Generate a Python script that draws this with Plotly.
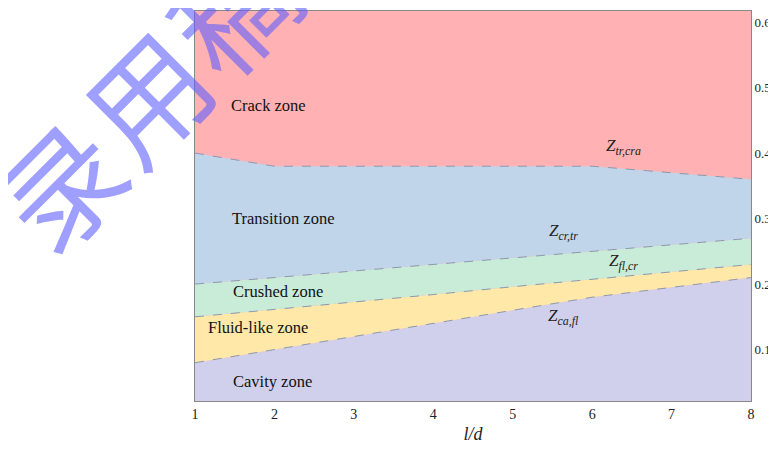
import plotly.graph_objects as go

x = [1, 2, 3, 4, 5, 6, 7, 8]
z_ca_fl = [0.08, 0.10, 0.12, 0.14, 0.16, 0.18, 0.195, 0.21]
z_fl_cr = [0.15, 0.161, 0.173, 0.184, 0.196, 0.207, 0.219, 0.23]
z_cr_tr = [0.20, 0.21, 0.22, 0.23, 0.24, 0.25, 0.26, 0.27]
z_tr_cra = [0.40, 0.38, 0.38, 0.38, 0.38, 0.38, 0.37, 0.36]

zone_names = ["Crack zone", "Transition zone", "Crushed zone", "Fluid-like zone", "Cavity zone"]
zone_pos_x = [1.43, 1.44, 1.45, 1.14, 1.45]
zone_pos_y = [0.472, 0.30, 0.189, 0.134, 0.051]

boundary_labels = ["<i>Z</i><sub><i>tr,cra</i></sub>", "<i>Z</i><sub><i>cr,tr</i></sub>",
                   "<i>Z</i><sub><i>fl,cr</i></sub>", "<i>Z</i><sub><i>ca,fl</i></sub>"]
boundary_pos_x = [6.4, 5.64, 6.4, 5.64]
boundary_pos_y = [0.41, 0.279, 0.233, 0.15]

x_ticks = [1, 2, 3, 4, 5, 6, 7, 8]
y_ticks = [0.1, 0.2, 0.3, 0.4, 0.5, 0.6]

col_crack = "#FFB1B3"
col_trans = "#C0D4EA"
col_crush = "#C8ECD8"
col_fluid = "#FFE8A8"
col_cav = "#D0D0EC"
line_style = dict(color="#8C9AAE", width=1, dash="dash")

W, H = 776, 451
OFF = 8  # page body margin
ML, MR, MT, MB = 187, 33, 3, 58

fig = go.Figure()
fig.add_trace(go.Scatter(x=x, y=z_ca_fl, mode="lines", line=line_style,
                         fill="tozeroy", fillcolor=col_cav, hoverinfo="skip"))
fig.add_trace(go.Scatter(x=x, y=z_fl_cr, mode="lines", line=line_style,
                         fill="tonexty", fillcolor=col_fluid, hoverinfo="skip"))
fig.add_trace(go.Scatter(x=x, y=z_cr_tr, mode="lines", line=line_style,
                         fill="tonexty", fillcolor=col_crush, hoverinfo="skip"))
fig.add_trace(go.Scatter(x=x, y=z_tr_cra, mode="lines", line=line_style,
                         fill="tonexty", fillcolor=col_trans, hoverinfo="skip"))

serif = "Liberation Serif, Times New Roman, serif"
for name, px, py in zip(zone_names, zone_pos_x, zone_pos_y):
    fig.add_annotation(x=px, y=py, text=name, showarrow=False, xanchor="left",
                       font=dict(family=serif, size=16.5, color="#111"))
for name, px, py in zip(boundary_labels, boundary_pos_x, boundary_pos_y):
    fig.add_annotation(x=px, y=py, text=name, showarrow=False,
                       font=dict(family=serif, size=17, color="#222"))

# watermark (page pixel centres converted to plot-paper coordinates)
wm_chars = ["录", "用", "稿"]
wm_px = [58, 144, 230]
wm_py = [183, 94, 6]
pw = W - ML - MR
ph = H - MT - MB
for ch, wx, wy in zip(wm_chars, wm_px, wm_py):
    fig.add_annotation(xref="paper", yref="paper",
                       x=(wx - OFF - ML) / pw, y=(OFF + H - MB - wy) / ph,
                       text=ch, showarrow=False, textangle=-45,
                       font=dict(family="Noto Sans CJK SC", size=120,
                                 color="rgba(95,95,255,0.6)"),
                       xanchor="center", yanchor="middle")

fig.update_layout(
    width=W, height=H,
    margin=dict(l=ML, r=MR, t=MT, b=MB, autoexpand=False),
    plot_bgcolor=col_crack, paper_bgcolor="white",
    showlegend=False,
    font=dict(family=serif, size=14, color="#222"),
)
fig.update_xaxes(range=[1, 8], tickvals=x_ticks, ticks="", showgrid=False,
                 zeroline=False, showline=True, linecolor="#888", linewidth=1,
                 mirror=True, automargin=False, tickfont=dict(family=serif, size=14),
                 title=dict(text="<i>l/d</i>", font=dict(family=serif, size=18), standoff=6))
fig.update_yaxes(range=[0.0215, 0.617], tickvals=y_ticks, side="right", ticks="",
                 showgrid=False, zeroline=False, showline=True, linecolor="#888",
                 linewidth=1, mirror=True, automargin=False,
                 tickfont=dict(family=serif, size=13))

fig.write_html("out.html")
